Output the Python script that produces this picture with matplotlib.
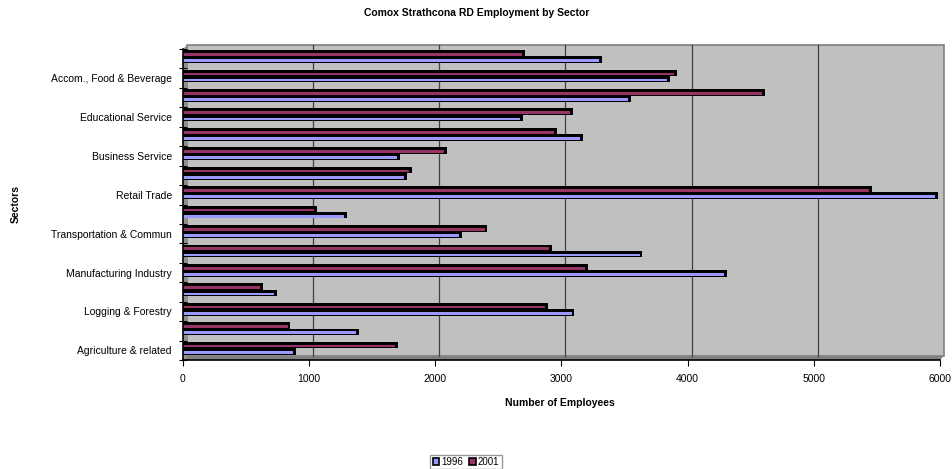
import numpy as np
import matplotlib.pyplot as plt
from matplotlib.patches import Rectangle, Polygon, Patch

plt.rcParams['font.family'] = ['Liberation Sans', 'DejaVu Sans']

# categories bottom -> top (only every other one is labelled on the chart)
sectors = ["Agriculture & related", "Fishing & Trapping", "Logging & Forestry", "Mining",
           "Manufacturing Industry", "Construction", "Transportation & Commun", "Wholesale Trade",
           "Retail Trade", "Finance, Insurance & Real Estate", "Business Service", "Government Service",
           "Educational Service", "Health & Social Service", "Accom., Food & Beverage", "Other Service"]
emp_1996 = [870, 1370, 3080, 720, 4290, 3620, 2190, 1280, 5960, 1750, 1700, 3150, 2670, 3530, 3840, 3300]
emp_2001 = [1680, 830, 2870, 610, 3190, 2900, 2390, 1040, 5440, 1790, 2070, 2940, 3070, 4590, 3890, 2690]
years = ["1996", "2001"]
colors = ["#9999ff", "#993366"]

W, H = 953, 469
fig = plt.figure(figsize=(W / 100, H / 100), dpi=100)
x0, x1, ytop, ybot = 183, 940, 49, 360
ax = fig.add_axes([x0 / W, 1 - ybot / H, (x1 - x0) / W, (ybot - ytop) / H])
ax.set_facecolor("none")
ax.set_xlim(0, 6000)
ax.set_ylim(-0.5, len(sectors) - 0.5)

# 3d walls
dx, dy = 4 / (x1 - x0), 4 / (ybot - ytop)
ax.add_patch(Rectangle((dx, dy), 1, 1, transform=ax.transAxes, facecolor="#c0c0c0",
                       edgecolor="#808080", lw=1.2, clip_on=False, zorder=0))
ax.add_patch(Polygon([(0, 0), (1, 0), (1 + dx, dy), (dx, dy)], transform=ax.transAxes,
                     facecolor="#808080", edgecolor="none", clip_on=False, zorder=0.5))
ax.add_patch(Polygon([(0, 0), (dx, dy), (dx, 1 + dy), (0, 1)], transform=ax.transAxes,
                     facecolor="#909090", edgecolor="none", clip_on=False, zorder=0.5))
for v in range(1000, 6000, 1000):
    xa = v / 6000 + dx
    ax.plot([xa, xa], [dy, 1 + dy], transform=ax.transAxes, color="#404040", lw=0.9,
            clip_on=False, zorder=0.6)

# bars: thin coloured front face, thick black depth band above it
y = np.arange(len(sectors))
off = [-0.1, 0.22]
fh = 0.14
for vals, o, c in zip([emp_1996, emp_2001], off, colors):
    vals = np.array(vals)
    ax.barh(y + o + 0.05, vals + 22, height=0.34, color="black", zorder=2)
    ax.barh(y + o, vals, height=fh, color=c, edgecolor="none", zorder=3)

for s in ["top", "right"]:
    ax.spines[s].set_visible(False)
ax.spines["left"].set_linewidth(1.2)
ax.spines["bottom"].set_linewidth(1.2)
ax.spines["left"].set_zorder(5)

ax.set_xticks(range(0, 6001, 1000))
ax.tick_params(axis="x", direction="out", length=4, width=0.8, labelsize=7.5, pad=6)
ax.set_yticks(y)
ax.set_yticklabels([s if i % 2 == 0 else "" for i, s in enumerate(sectors)], fontsize=7.5)
ax.tick_params(axis="y", length=0, pad=8)
ax.set_yticks(np.arange(-0.5, len(sectors)), minor=True)
ax.tick_params(axis="y", which="minor", direction="inout", length=6, width=0.8)

fig.text(0.5, 1 - 13 / H, "Comox Strathcona RD Employment by Sector", ha="center", va="center",
         fontsize=7.5, fontweight="bold")
fig.text(560 / W, 1 - 403 / H, "Number of Employees", ha="center", va="center",
         fontsize=7.5, fontweight="bold")
fig.text(16 / W, 1 - 204 / H, "Sectors", ha="center", va="center", rotation=90,
         fontsize=7.5, fontweight="bold")

handles = [Patch(facecolor=c, edgecolor="black", lw=1.2) for c in colors]
leg = fig.legend(handles, years, loc="center", bbox_to_anchor=(466 / W, 1 - 462 / H), ncol=2,
                 fontsize=7, frameon=True, fancybox=False, handlelength=0.7, handleheight=0.7,
                 handletextpad=0.2, columnspacing=0.6, borderpad=0.25, borderaxespad=0)
leg.get_frame().set_edgecolor("#808080")
leg.get_frame().set_linewidth(1)

fig.savefig("out.png", dpi=100)
